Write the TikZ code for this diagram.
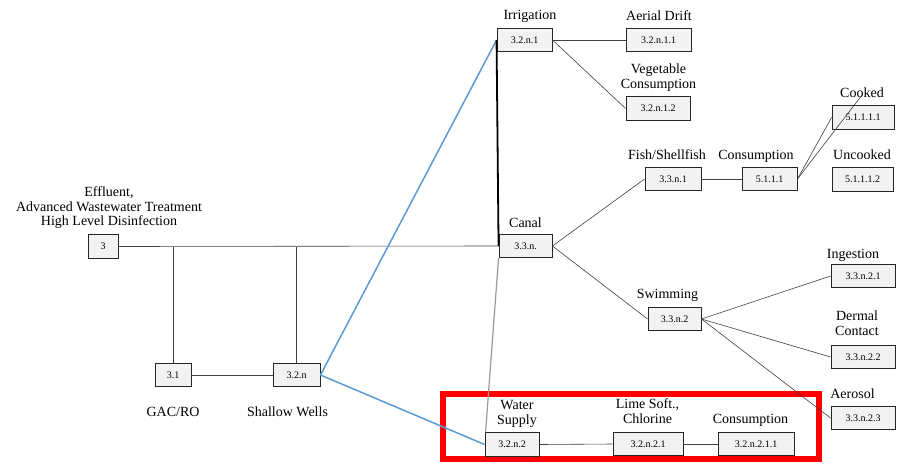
\documentclass[tikz,border=0pt]{standalone}
\usepackage{fontspec}
\setmainfont{Liberation Serif}
\definecolor{blueline}{RGB}{91,155,213}
\definecolor{boxfill}{RGB}{242,242,242}
\definecolor{redbox}{RGB}{255,0,0}
\begin{document}
\begin{tikzpicture}[x=1pt,y=-1pt,
  bx/.style={draw=black!85, line width=0.9pt, fill=boxfill, minimum height=23.5pt, inner sep=0pt, font=\fontsize{10}{12}\selectfont},
  lb/.style={inner sep=0pt, font=\fontsize{14}{15}\selectfont, anchor=base},
  ml/.style={inner sep=0pt, font=\fontsize{14}{15}\selectfont, align=center, anchor=north},
  ln/.style={draw=black!75, line width=0.6pt},
  bl/.style={draw=blueline, line width=1.5pt},
]
\useasboundingbox (0,0) rectangle (901,463);
% highlight frame
\draw[redbox, line width=6pt] (443,393.5) rectangle (819,458.5);
% boxes
\node[bx, minimum width=30pt] (n3) at (103,246.5) {3};
\node[bx, minimum width=36pt] (n31) at (173,375) {3.1};
\node[bx, minimum width=47pt] (n32n) at (296.5,375) {3.2.n};
\node[bx, minimum width=55pt] (n32n1) at (524.5,40) {3.2.n.1};
\node[bx, minimum width=65pt] (n32n11) at (658.5,40) {3.2.n.1.1};
\node[bx, minimum width=64pt] (n32n12) at (658,108.5) {3.2.n.1.2};
\node[bx, minimum width=56pt] (n33n1) at (673,179) {3.3.n.1};
\node[bx, minimum width=55pt] (n5111) at (769.5,179) {5.1.1.1};
\node[bx, minimum width=62pt] (n51111) at (863,117.5) {5.1.1.1.1};
\node[bx, minimum width=61pt] (n51112) at (862.5,179.5) {5.1.1.1.2};
\node[bx, minimum width=53pt] (n33n) at (525.5,246) {3.3.n.};
\node[bx, minimum width=53pt] (n33n2) at (674.5,319) {3.3.n.2};
\node[bx, minimum width=64pt] (n33n21) at (863,276) {3.3.n.2.1};
\node[bx, minimum width=64pt] (n33n22) at (863,357) {3.3.n.2.2};
\node[bx, minimum width=64pt] (n33n23) at (863,418) {3.3.n.2.3};
\node[bx, minimum width=54pt] (n32n2) at (512,444.5) {3.2.n.2};
\node[bx, minimum width=70pt] (n32n21) at (648,444) {3.2.n.2.1};
\node[bx, minimum width=76pt] (n32n211) at (756,444) {3.2.n.2.1.1};
% labels
\node[ml, font=\fontsize{14}{14.5}\selectfont] (lEff) at (109,186.5) {Effluent,\\Advanced Wastewater Treatment\\High Level Disinfection};
\node[lb] (lGAC) at (173,416.5) {GAC/RO};
\node[lb] (lSW) at (287.5,416) {Shallow Wells};
\node[lb] (lIrr) at (530,19.5) {Irrigation};
\node[lb] (lAD) at (659,20) {Aerial Drift};
\node[ml] (lVeg) at (658.5,63.5) {Vegetable\\Consumption};
\node[lb] (lCook) at (862,97) {Cooked};
\node[lb] (lFish) at (667,159) {Fish/Shellfish};
\node[lb] (lCons1) at (756,159) {Consumption};
\node[lb] (lUnc) at (862,159) {Uncooked};
\node[lb] (lCanal) at (525.5,227) {Canal};
\node[lb] (lIng) at (853,258) {Ingestion};
\node[lb] (lSwim) at (667.5,298) {Swimming};
\node[ml] (lDerm) at (857,310.5) {Dermal\\Contact};
\node[lb] (lAer) at (852.5,398) {Aerosol};
\node[ml] (lWS) at (517,400.5) {Water\\Supply};
\node[ml] (lLime) at (647.5,398.5) {Lime Soft.,\\Chlorine};
\node[lb] (lCons2) at (750.5,423) {Consumption};
% connectors
\coordinate (cook) at (862,95);
\draw[ln] (n3.east) -- (n33n.west);
\draw[ln] (n31.north) -- (n31.north |- n3.east);
\draw[ln] (n32n.north) -- (n32n.north |- n3.east);
\draw[ln] (n31.east) -- (n32n.west);
\draw[bl] (n32n.east) -- (n32n1.west);
\draw[bl] (n32n.east) -- (n32n2.west);
\draw[draw=black, line width=1.8pt] (n32n1.west) -- (n33n.west);
\draw[draw=black!40, line width=1.2pt] (n33n.south west) -- ([xshift=1pt]n32n2.north west);
\draw[ln] (n32n1.east) -- (n32n11.west);
\draw[ln] (n32n1.east) -- (n32n12.west);
\draw[ln] (n33n.east) -- (n33n1.west);
\draw[ln] (n33n.east) -- (n33n2.west);
\draw[ln] (n33n1.east) -- (n5111.west);
\draw[ln] (n5111.east) -- (n51111.west);
\draw[ln] (n5111.east) -- (cook);
\draw[ln] (n33n2.east) -- (n33n21.west);
\draw[ln] (n33n2.east) -- (n33n22.west);
\draw[ln] (n33n2.east) -- (n33n23.west);
\draw[ln] (n32n2.east) -- (n32n21.west);
\draw[ln] (n32n21.east) -- (n32n211.west);
\end{tikzpicture}
\end{document}
